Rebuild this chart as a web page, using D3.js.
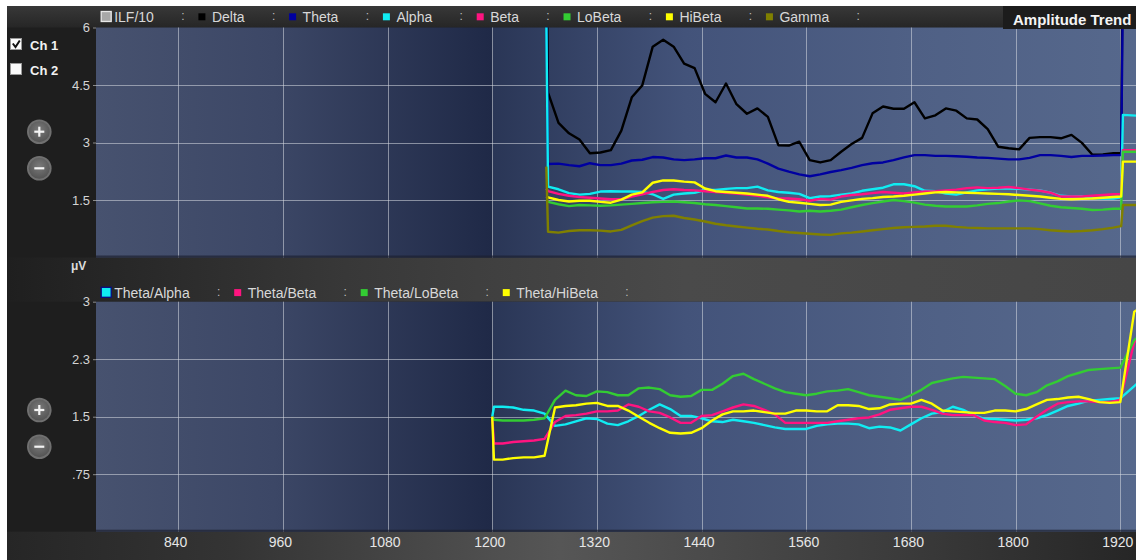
<!DOCTYPE html>
<html><head><meta charset="utf-8">
<script src="https://cdn.jsdelivr.net/npm/d3@7"></script>
<style>
html,body{margin:0;padding:0;background:#fff;}
svg{display:block;}
text{font-family:"Liberation Sans",Arial,sans-serif;}
</style></head>
<body><svg id="c" width="1136" height="560"></svg>
<script>
// ---------- DATA ----------
const topTimes = [1262,1264,1276,1288,1300,1312,1324,1336,1348,1360,1372,1384,1396,1408,1420,1432,1444,1456,1468,1480,1492,1504,1516,1528,1540,1552,1564,1576,1588,1600,1612,1624,1636,1648,1660,1672,1684,1696,1708,1720,1732,1744,1756,1768,1780,1792,1804,1816,1828,1840,1852,1864,1876,1888,1900,1912,1921,1923,1939];
const delta  = [9,4.3,3.51,3.24,3.08,2.72,2.74,2.80,3.31,4.18,4.49,5.50,5.68,5.50,5.06,4.94,4.27,4.05,4.54,4.00,3.75,3.89,3.67,2.93,2.92,3.02,2.54,2.48,2.54,2.76,2.96,3.12,3.76,3.94,3.88,3.88,4.05,3.63,3.71,3.89,3.83,3.63,3.60,3.35,2.89,2.85,2.82,3.12,3.14,3.14,3.11,3.20,2.99,2.68,2.69,2.72,2.73,9,9];
const theta  = [7,2.44,2.45,2.41,2.38,2.46,2.41,2.41,2.45,2.53,2.55,2.62,2.61,2.56,2.54,2.56,2.59,2.59,2.66,2.61,2.61,2.56,2.45,2.32,2.24,2.17,2.12,2.17,2.23,2.28,2.34,2.41,2.46,2.48,2.54,2.61,2.67,2.67,2.65,2.65,2.64,2.63,2.61,2.60,2.58,2.56,2.56,2.60,2.67,2.67,2.65,2.62,2.65,2.65,2.66,2.67,2.67,7,7];
const alpha  = [6.3,1.85,1.78,1.68,1.64,1.66,1.72,1.73,1.72,1.72,1.71,1.65,1.53,1.64,1.67,1.69,1.76,1.76,1.79,1.81,1.81,1.85,1.75,1.71,1.69,1.66,1.55,1.59,1.60,1.64,1.67,1.74,1.78,1.82,1.91,1.91,1.86,1.74,1.73,1.67,1.64,1.70,1.75,1.78,1.80,1.80,1.79,1.77,1.75,1.69,1.61,1.59,1.60,1.55,1.54,1.54,1.57,3.72,3.70];
const beta   = [1.8,1.73,1.66,1.61,1.58,1.56,1.54,1.52,1.52,1.59,1.65,1.71,1.76,1.78,1.76,1.75,1.73,1.71,1.69,1.67,1.64,1.61,1.57,1.54,1.54,1.52,1.48,1.53,1.51,1.59,1.63,1.65,1.68,1.71,1.69,1.67,1.70,1.72,1.73,1.75,1.77,1.81,1.83,1.81,1.82,1.84,1.81,1.77,1.74,1.69,1.59,1.59,1.59,1.61,1.63,1.65,1.66,2.80,2.80];
const loBeta = [1.5,1.45,1.39,1.34,1.37,1.36,1.35,1.36,1.38,1.40,1.42,1.44,1.45,1.46,1.44,1.42,1.39,1.37,1.34,1.31,1.28,1.28,1.27,1.25,1.23,1.20,1.22,1.20,1.22,1.25,1.31,1.37,1.42,1.46,1.50,1.47,1.43,1.38,1.35,1.33,1.33,1.33,1.36,1.40,1.42,1.46,1.49,1.47,1.41,1.35,1.31,1.29,1.27,1.24,1.25,1.27,1.27,2.76,2.76];
const hiBeta = [1.6,1.57,1.50,1.46,1.48,1.48,1.45,1.43,1.51,1.64,1.70,1.95,2.01,2.01,1.98,1.96,1.80,1.73,1.71,1.69,1.67,1.64,1.61,1.52,1.45,1.43,1.40,1.37,1.38,1.45,1.49,1.53,1.55,1.58,1.59,1.61,1.64,1.67,1.70,1.71,1.70,1.69,1.68,1.67,1.66,1.65,1.63,1.61,1.59,1.56,1.53,1.52,1.53,1.54,1.56,1.58,1.59,2.50,2.50];
const gamma  = [2.37,0.67,0.65,0.69,0.71,0.71,0.70,0.68,0.72,0.84,0.95,1.04,1.08,1.09,1.03,0.99,0.94,0.88,0.84,0.81,0.78,0.75,0.73,0.69,0.66,0.64,0.62,0.60,0.59,0.63,0.65,0.68,0.71,0.74,0.77,0.79,0.80,0.81,0.83,0.83,0.80,0.78,0.77,0.76,0.76,0.76,0.76,0.76,0.74,0.71,0.69,0.68,0.69,0.71,0.74,0.78,0.82,1.37,1.37];

const botTimes = [1200,1202,1212,1224,1236,1248,1260,1272,1284,1296,1308,1320,1332,1344,1356,1368,1380,1392,1404,1416,1428,1440,1452,1464,1476,1488,1500,1512,1524,1536,1548,1560,1572,1584,1596,1608,1620,1632,1644,1656,1668,1680,1692,1704,1716,1728,1740,1752,1764,1776,1788,1800,1812,1824,1836,1848,1860,1872,1884,1896,1908,1920,1936,1939];
const thetaAlpha  = [1.50,1.63,1.63,1.62,1.59,1.58,1.54,1.38,1.40,1.44,1.48,1.47,1.41,1.39,1.44,1.51,1.59,1.66,1.60,1.51,1.51,1.48,1.44,1.43,1.46,1.44,1.42,1.39,1.36,1.34,1.34,1.34,1.38,1.40,1.41,1.41,1.40,1.35,1.37,1.36,1.32,1.40,1.48,1.54,1.56,1.63,1.59,1.52,1.47,1.47,1.46,1.45,1.46,1.48,1.52,1.58,1.64,1.67,1.71,1.72,1.73,1.74,1.90,1.93];
const thetaBeta   = [1.50,1.15,1.15,1.17,1.18,1.19,1.21,1.43,1.51,1.52,1.54,1.57,1.57,1.58,1.66,1.63,1.57,1.55,1.49,1.42,1.42,1.51,1.52,1.57,1.62,1.66,1.64,1.59,1.53,1.42,1.42,1.42,1.42,1.42,1.44,1.46,1.48,1.49,1.53,1.59,1.61,1.63,1.63,1.59,1.54,1.52,1.52,1.52,1.45,1.43,1.42,1.39,1.40,1.50,1.59,1.67,1.69,1.70,1.70,1.69,1.69,1.72,2.47,2.51];
const thetaLoBeta = [1.50,1.46,1.45,1.45,1.45,1.46,1.48,1.72,1.84,1.78,1.77,1.83,1.82,1.78,1.78,1.87,1.88,1.86,1.78,1.76,1.77,1.85,1.85,1.93,2.03,2.06,1.99,1.93,1.87,1.82,1.80,1.78,1.80,1.83,1.84,1.86,1.82,1.78,1.76,1.74,1.72,1.78,1.85,1.94,1.97,2.00,2.02,2.01,2.00,1.99,1.90,1.80,1.78,1.82,1.91,1.96,2.03,2.07,2.11,2.12,2.13,2.14,2.50,2.53];
const thetaHiBeta = [1.50,0.94,0.94,0.96,0.97,0.97,0.99,1.62,1.64,1.65,1.67,1.68,1.64,1.64,1.58,1.50,1.42,1.35,1.29,1.28,1.29,1.35,1.45,1.53,1.57,1.57,1.58,1.56,1.54,1.54,1.58,1.58,1.57,1.57,1.65,1.65,1.64,1.60,1.61,1.66,1.67,1.67,1.72,1.67,1.58,1.57,1.56,1.55,1.55,1.58,1.58,1.57,1.60,1.66,1.72,1.73,1.75,1.76,1.73,1.69,1.68,1.69,2.87,2.89];

const xTicks = [840,960,1080,1200,1320,1440,1560,1680,1800,1920];
const topYTicks = [1.5,3,4.5,6];
const topYLabels = ["1.5","3","4.5","6"];
const botYTicks = [0.75,1.5,2.25,3];
const botYLabels = [".75","1.5","2.3","3"];

const topNames  = ["ILF/10","Delta","Theta","Alpha","Beta","LoBeta","HiBeta","Gamma"];
const topColors = ["#a8a8a8","#000000","#0000a0","#10ecf2","#ff1480","#33cc33","#ffff00","#808000"];
const topSeries = [null, delta, theta, alpha, beta, loBeta, hiBeta, gamma];
const botNames  = ["Theta/Alpha","Theta/Beta","Theta/LoBeta","Theta/HiBeta"];
const botColors = ["#10ecf2","#ff1480","#33cc33","#ffff00"];
const botSeries = [thetaAlpha, thetaBeta, thetaLoBeta, thetaHiBeta];
const channels = ["Ch 1","Ch 2"];
const title = "Amplitude Trend";
const unit = "μV";

// ---------- LAYOUT ----------
const W=1136,H=560, L=96, R=1136;
const topT=27.5, topB=257.5, botT=301.7, botB=531.7;
const x = d3.scaleLinear().domain([745.8,1938]).range([L,R]);
const yTop = d3.scaleLinear().domain([0,6]).range([topB,topT]);
const yBot = d3.scaleLinear().domain([0,3]).range([botB,botT]);

const svg = d3.select("#c");
const defs = svg.append("defs");
function lg(id, stops, vertical){
  const g=defs.append("linearGradient").attr("id",id)
    .attr("x1",0).attr("y1",0).attr("x2",vertical?0:1).attr("y2",vertical?1:0);
  stops.forEach(s=>g.append("stop").attr("offset",s[0]).attr("stop-color",s[1]));
}
lg("gBar",[[0,"#383838"],[1,"#262626"]],true);
lg("gMid",[[0,"#1f1f1f"],[0.3,"#383838"],[0.6,"#4a4a4a"],[1,"#464646"]]);
lg("gBot",[[0,"#262626"],[0.2,"#343434"],[0.49,"#565656"],[0.8,"#3a3a3a"],[1,"#262626"]]);
lg("gPL",[[0,"#47526f"],[0.45,"#3c4766"],[1,"#1f2947"]]);
lg("gPR",[[0,"#2a3656"],[0.3,"#43537a"],[0.65,"#4f6085"],[1,"#56688c"]]);
const rg = defs.append("radialGradient").attr("id","gBtn").attr("cx","50%").attr("cy","40%").attr("r","60%");
rg.append("stop").attr("offset",0).attr("stop-color","#7a7a7a");
rg.append("stop").attr("offset",1).attr("stop-color","#545454");

svg.append("rect").attr("width",W).attr("height",H).attr("fill","#fff");
svg.append("rect").attr("x",7).attr("y",6).attr("width",W-7).attr("height",H-6).attr("fill","#1e1e1e");
svg.append("rect").attr("x",7).attr("y",6).attr("width",W-7).attr("height",topT-6).attr("fill","url(#gBar)");
svg.append("rect").attr("x",7).attr("y",topB).attr("width",W-7).attr("height",botT-topB).attr("fill","url(#gMid)");
svg.append("rect").attr("x",7).attr("y",botB).attr("width",W-7).attr("height",H-botB).attr("fill","url(#gBot)");

// panels
function panel(t,b,y,yTicks,yLabels,series,colors,id){
  const xs = x(1200);
  svg.append("rect").attr("x",L).attr("y",t).attr("width",xs-L).attr("height",b-t).attr("fill","url(#gPL)");
  svg.append("rect").attr("x",xs).attr("y",t).attr("width",R-xs).attr("height",b-t).attr("fill","url(#gPR)");
  const grid = svg.append("g").attr("stroke","rgba(215,218,226,0.55)").attr("stroke-width",1);
  xTicks.forEach(v=>grid.append("line").attr("x1",Math.round(x(v))+0.5).attr("x2",Math.round(x(v))+0.5).attr("y1",t).attr("y2",b));
  yTicks.filter(v=>v<y.domain()[1]).forEach(v=>grid.append("line").attr("x1",L).attr("x2",R).attr("y1",Math.round(y(v))+0.5).attr("y2",Math.round(y(v))+0.5));
  svg.append("rect").attr("x",L).attr("y",b-2).attr("width",R-L).attr("height",2).attr("fill","#1c2130").attr("opacity",0.7);
  defs.append("clipPath").attr("id",id).append("rect").attr("x",L).attr("y",t).attr("width",R-L).attr("height",b-t-1);
  const ax = svg.append("g").attr("transform",`translate(${L},0)`)
    .call(d3.axisLeft(y).tickValues(yTicks).tickFormat((d,i)=>yLabels[i]).tickSize(3).tickPadding(3));
  ax.select(".domain").remove();
  ax.selectAll("line").attr("stroke","#8a8a8a");
  ax.selectAll("text").attr("fill","#d4d4d4").style("font-size","13px").style("font-family","'Liberation Sans',Arial,sans-serif");
  const g = svg.append("g").attr("clip-path",`url(#${id})`);
  series.forEach((s,i)=>{
    if(!s) return;
    const times = s.times;
    const line = d3.line().x((d,j)=>x(times[j])).y(d=>y(d));
    g.append("path").datum(s.values).attr("d",line).attr("fill","none")
      .attr("stroke",colors[i]).attr("stroke-width",2.4).attr("stroke-linejoin","round");
  });
}
panel(topT,topB,yTop,topYTicks,topYLabels,topSeries.map(s=>s?{times:topTimes,values:s}:null),topColors,"cTop");
panel(botT,botB,yBot,botYTicks,botYLabels,botSeries.map(s=>({times:botTimes,values:s})),botColors,"cBot");

// x axis
const xa = svg.append("g").attr("transform",`translate(0,${botB})`)
  .call(d3.axisBottom(x).tickValues(xTicks).tickSize(0).tickPadding(5).tickFormat(d3.format("d")));
xa.select(".domain").remove();
xa.selectAll("text").attr("fill","#e6e6e6").attr("dx",-3).style("font-size","14px").style("font-family","'Liberation Sans',Arial,sans-serif");

// legends
function legend(names, colors, y0, bordered){
  let xx = 100.7;
  names.forEach((n,i)=>{
    if(i===0){
      svg.append("rect").attr("x",xx+0.5).attr("y",y0-5.5).attr("width",10).attr("height",10)
        .attr("fill",colors[i]).attr("stroke",bordered).attr("stroke-width",1.3);
    } else {
      svg.append("rect").attr("x",xx).attr("y",y0-3.7).attr("width",7).attr("height",7).attr("fill",colors[i]);
    }
    const t = svg.append("text").attr("x",xx+13.5).attr("y",y0+5).attr("fill","#d8d8d8")
      .style("font-size","14px").text(n);
    const w = t.node().getComputedTextLength();
    const cx = xx+13.5+w+29;
    svg.append("text").attr("x",cx).attr("y",y0+3).attr("fill","#bdbdbd").attr("text-anchor","middle")
      .style("font-size","12px").text(":");
    xx = cx+15.5;
  });
}
legend(topNames, topColors, 17, "#e8e8e8");
legend(botNames, botColors, 292.8, "#0a0a80");

// title
svg.append("rect").attr("x",1003).attr("y",6).attr("width",133).attr("height",23).attr("fill","#1c1c1c");
svg.append("text").attr("x",1013).attr("y",25).attr("fill","#f4f4f4").style("font-size","15px").style("font-weight","bold").text(title);

// channel checkboxes
channels.forEach((c,i)=>{
  const yy = 38.5 + i*25;
  svg.append("rect").attr("x",10.5).attr("y",yy).attr("width",11).attr("height",11).attr("fill","#fbfbfb").attr("stroke","#9a9a9a");
  if(i===0) svg.append("path").attr("d",`M12.8,${yy+5} L15.5,${yy+8.5} L19.8,${yy+2}`).attr("fill","none").attr("stroke","#111").attr("stroke-width",2);
  svg.append("text").attr("x",30).attr("y",yy+11.5).attr("fill","#f2f2f2").style("font-size","13px").style("font-weight","bold").text(c);
});

// zoom buttons
function btn(cx,cy,plus){
  svg.append("circle").attr("cx",cx).attr("cy",cy).attr("r",12.3).attr("fill","#858585").attr("opacity",0.8);
  svg.append("circle").attr("cx",cx).attr("cy",cy).attr("r",10.5).attr("fill","url(#gBtn)");
  svg.append("line").attr("x1",cx-5).attr("x2",cx+5).attr("y1",cy).attr("y2",cy).attr("stroke","#f4f4f4").attr("stroke-width",2.2);
  if(plus) svg.append("line").attr("x1",cx).attr("x2",cx).attr("y1",cy-5).attr("y2",cy+5).attr("stroke","#f4f4f4").attr("stroke-width",2.2);
}
btn(39.3,131.7,true); btn(39.3,168.3,false);
btn(39.3,410,true); btn(39.3,446.7,false);

// unit
svg.append("text").attr("x",71).attr("y",270).attr("fill","#dcdcdc").style("font-size","12px").style("font-weight","bold").text(unit);
</script>
</body></html>
